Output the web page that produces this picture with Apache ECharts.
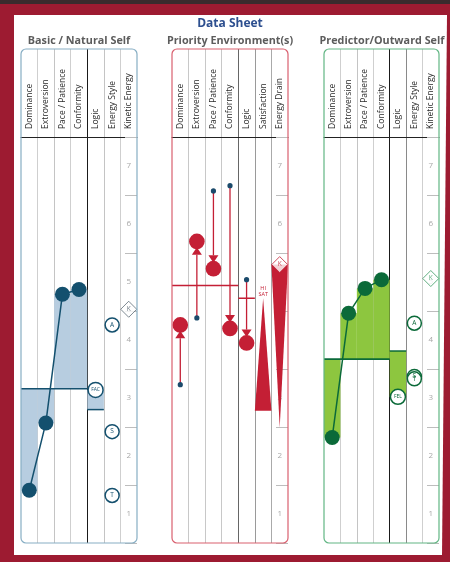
<!DOCTYPE html>
<html><head><meta charset="utf-8">
<script src="https://cdn.jsdelivr.net/npm/echarts@6/dist/echarts.min.js"></script>
<style>html,body{margin:0;padding:0;background:#9d1b31}#c{width:450px;height:562px}</style>
</head><body><div id="c"></div>
<script>
// ---------- data ----------
const sheetTitle = 'Data Sheet';
const panelTitles = ['Basic / Natural Self', 'Priority Environment(s)', 'Predictor/Outward Self'];
const colsSelf = ['Dominance', 'Extroversion', 'Pace / Patience', 'Conformity', 'Logic', 'Energy Style', 'Kinetic Energy'];
const colsEnv = ['Dominance', 'Extroversion', 'Pace / Patience', 'Conformity', 'Logic', 'Satisfaction', 'Energy Drain'];
const scaleLabels = ['1', '2', '3', '4', '5', '6', '7'];

// Basic / Natural Self
const basicTraits = [1.41, 2.57, 4.79, 4.87];
const basicMid = 3.16;
const basicLogic = [2.80, 3.14];          // [bar end with line, bar end with tag]
const basicLogicTag = 'FAC';
const basicStyleTags = ['A', 'S', 'T'];
const basicStyleVals = [4.26, 2.42, 1.32];
const basicKinetic = 4.53;

// Priority Environment(s)
const envFrom = [3.23, 4.38, 6.57, 6.66, 5.04];
const envTo = [4.26, 5.70, 5.23, 4.20, 3.95];
const envMid = 4.94;
const envLogicMark = 4.72;
const envSat = [2.78, 4.72];              // [base, peak]
const envSatTag = ['HI', 'SAT'];
const envDrain = [5.30, 2.49];            // [top, tip]

// Predictor / Outward Self
const predTraits = [2.32, 4.46, 4.89, 5.04];
const predMid = 3.67;
const predLogic = [3.81, 3.02];
const predLogicTag = 'FEL';
const predStyleTags = ['A', 'S', 'T'];
const predStyleVals = [4.29, 3.37, 3.33];
const predKinetic = 5.06;

// ---------- layout / style ----------
const TOP = 49, SEP = 137, BOT = 543;
const FONT = 'Open Sans';
const T = 'rgba(0,0,0,0)';
const panels = [
  { left: 21, width: 116, cols: colsSelf, border: '#87aec4', dark: '#14506e', fill: '#b7cde0',
    lines: [T, '#cfcfcf', '#c4c4c4', '#cfcfcf', '#1a1a1a', '#c4c4c4', '#cfcfcf', T] },
  { left: 172, width: 116, cols: colsEnv, border: '#d9606f', dark: '#c41f35', fill: '#c41f35',
    lines: [T, '#c8c8c8', '#c8c8c8', '#c8c8c8', '#666666', '#9a9a9a', '#aaaaaa', T] },
  { left: 324, width: 115, cols: colsSelf, border: '#62b684', dark: '#0b6a39', fill: '#8dc63f',
    lines: [T, '#cfcfcf', '#c4c4c4', '#cfcfcf', '#1a1a1a', '#8a8a8a', '#cfcfcf', T] }
];
const RED = '#c41f35', BLUE = '#1b4a6b';

const grid = [], xAxis = [], yAxis = [], series = [];
panels.forEach((p, k) => {
  grid.push({ left: p.left, top: TOP, width: p.width, height: SEP - TOP });
  grid.push({ left: p.left, top: SEP, width: p.width, height: BOT - SEP });
  xAxis.push({
    type: 'category', gridIndex: 2 * k, data: p.cols, position: 'bottom',
    axisLine: { show: true, lineStyle: { color: '#222', width: 1 } },
    axisTick: { show: false },
    axisLabel: { inside: true, rotate: 90, margin: 8, fontSize: 8.5, color: '#2a2a2a', fontFamily: FONT, interval: 0 },
    splitLine: { show: true, lineStyle: { color: p.lines, width: 1 } }
  });
  xAxis.push({
    type: 'category', gridIndex: 2 * k + 1, data: p.cols,
    axisLine: { show: false }, axisTick: { show: false }, axisLabel: { show: false, interval: 0 },
    splitLine: { show: true, lineStyle: { color: p.lines, width: 1 } }
  });
  yAxis.push({ type: 'value', gridIndex: 2 * k, min: 0, max: 1, show: false });
  yAxis.push({ type: 'value', gridIndex: 2 * k + 1, min: 0.5, max: 7.5, show: false });
  yAxis.push({
    type: 'category', gridIndex: 2 * k + 1, data: scaleLabels, position: 'right',
    axisLine: { show: false },
    axisTick: { show: true, inside: true, length: 12, lineStyle: { color: '#bdbdbd' } },
    axisLabel: { inside: true, margin: 6, fontSize: 8, color: '#a8a8a8', fontFamily: FONT },
    splitLine: { show: false }
  });
});

const ax = k => ({ xAxisIndex: 2 * k + 1, yAxisIndex: 3 * k + 1 });

function barSeries(k, vals, mid, fill) {
  return Object.assign({
    type: 'custom', z: 2, silent: true,
    data: vals.map((v, i) => [i, v]),
    renderItem: (params, api) => {
      const c = api.coord([api.value(0), api.value(1)]);
      const b = api.coord([api.value(0), mid]);
      const w = api.size([1, 0])[0];
      return { type: 'rect', shape: { x: c[0] - w / 2, y: Math.min(c[1], b[1]), width: w, height: Math.abs(c[1] - b[1]) }, style: { fill } };
    }
  }, ax(k));
}
function hLine(k, c0, c1, v, color, lw) {
  return Object.assign({
    type: 'custom', z: 3, silent: true,
    data: [[c0, v]],
    renderItem: (params, api) => {
      const a = api.coord([api.value(0), api.value(1)]);
      const b = api.coord([c1, api.value(1)]);
      const w = api.size([1, 0])[0];
      return { type: 'line', shape: { x1: a[0] - w / 2, y1: a[1], x2: b[0] + w / 2, y2: b[1] }, style: { stroke: color, lineWidth: lw } };
    }
  }, ax(k));
}
function logicBar(k, col, vals, fill, dark) {
  return Object.assign({
    type: 'custom', z: 2, silent: true,
    data: [[col, vals[0], vals[1]]],
    renderItem: (params, api) => {
      const a = api.coord([api.value(0), api.value(1)]);
      const b = api.coord([api.value(0), api.value(2)]);
      const w = api.size([1, 0])[0];
      return { type: 'group', children: [
        { type: 'rect', shape: { x: a[0] - w / 2, y: Math.min(a[1], b[1]), width: w, height: Math.abs(a[1] - b[1]) }, style: { fill } },
        { type: 'line', shape: { x1: a[0] - w / 2, y1: a[1], x2: a[0] + w / 2, y2: a[1] }, style: { stroke: dark, lineWidth: 1.5 } }
      ] };
    }
  }, ax(k));
}
function traitLine(k, vals, dark) {
  return Object.assign({
    type: 'line', z: 4, silent: true, data: vals, symbol: 'circle', symbolSize: 15,
    showSymbol: true, showAllSymbol: true,
    itemStyle: { color: dark, opacity: 1 }, lineStyle: { color: dark, width: 1.5 }
  }, ax(k));
}
function tagSeries(k, items, dark, size, fs, symbol) {
  return Object.assign({
    type: 'scatter', z: 5, silent: true, symbol: symbol || 'circle', symbolSize: size,
    data: items, encode: { x: 0, y: 1 },
    itemStyle: { color: '#fff', borderColor: dark, borderWidth: 1.5, opacity: 1 },
    label: { show: true, position: 'inside', formatter: p => p.value[2], fontSize: fs, color: dark, fontFamily: FONT }
  }, ax(k));
}

// Panel 1
const p1 = panels[0];
series.push(barSeries(0, basicTraits, basicMid, p1.fill));
series.push(logicBar(0, 4, basicLogic, p1.fill, p1.dark));
series.push(hLine(0, 0, 3, basicMid, p1.dark, 1.6));
series.push(traitLine(0, basicTraits, p1.dark));
series.push(tagSeries(0, [[4, basicLogic[1], basicLogicTag]], p1.dark, 15, 5, 'circle'));
series.push(tagSeries(0, basicStyleVals.map((v, i) => [5, v, basicStyleTags[i]]), p1.dark, 14, 6.5));
series.push(Object.assign(tagSeries(0, [[6, basicKinetic, 'K']], '#4a5a66', 16, 6.5, 'diamond'), { itemStyle: { color: '#fff', borderColor: '#4a5a66', borderWidth: 0.9 } }));

// Panel 2
series.push(hLine(1, 0, 3, envMid, RED, 1.5));
series.push(hLine(1, 4, 4, envLogicMark, RED, 1.5));
series.push(Object.assign({
  type: 'custom', z: 4, silent: true,
  data: envFrom.map((f, i) => [i, f, envTo[i]]),
  renderItem: (params, api) => {
    const i = api.value(0);
    const pf = api.coord([i, api.value(1)]), pt = api.coord([i, api.value(2)]);
    const d = pt[1] > pf[1] ? 1 : -1;
    const r = 7.8;
    const baseY = pt[1] - d * (r + 5.5), tipY = pt[1] - d * (r - 2);
    return { type: 'group', children: [
      { type: 'line', shape: { x1: pf[0], y1: pf[1], x2: pt[0], y2: baseY }, style: { stroke: RED, lineWidth: 1.3 } },
      { type: 'polygon', shape: { points: [[pt[0] - 5, baseY], [pt[0] + 5, baseY], [pt[0], tipY]] }, style: { fill: RED } },
      { type: 'circle', shape: { cx: pt[0], cy: pt[1], r }, style: { fill: RED } },
      { type: 'circle', shape: { cx: pf[0], cy: pf[1], r: 2.6 }, style: { fill: BLUE } }
    ] };
  }
}, ax(1)));
series.push(Object.assign({
  type: 'custom', z: 3, silent: true,
  data: [[5, envSat[0], envSat[1]]],
  renderItem: (params, api) => {
    const b = api.coord([api.value(0), api.value(1)]), t = api.coord([api.value(0), api.value(2)]);
    const w = api.size([1, 0])[0];
    return { type: 'group', children: [
      { type: 'polygon', shape: { points: [[b[0] - w / 2, b[1]], [b[0] + w / 2, b[1]], [t[0], t[1]]] }, style: { fill: RED } },
      { type: 'text', x: t[0], y: t[1] - 10, style: { text: envSatTag[0], fill: RED, fontSize: 5.5, fontFamily: FONT, align: 'center', verticalAlign: 'middle' } },
      { type: 'text', x: t[0], y: t[1] - 4, style: { text: envSatTag[1], fill: RED, fontSize: 5.5, fontFamily: FONT, align: 'center', verticalAlign: 'middle' } }
    ] };
  }
}, ax(1)));
series.push(Object.assign({
  type: 'custom', z: 3, silent: true,
  data: [[6, envDrain[0], envDrain[1]]],
  renderItem: (params, api) => {
    const a = api.coord([api.value(0), api.value(1)]), t = api.coord([api.value(0), api.value(2)]);
    const w = api.size([1, 0])[0];
    return { type: 'polygon', shape: { points: [[a[0] - w / 2, a[1]], [a[0] + w / 2, a[1]], [t[0], t[1]]] }, style: { fill: RED } };
  }
}, ax(1)));
series.push(Object.assign(tagSeries(1, [[6, envDrain[0], 'K']], RED, 16, 6.5, 'diamond'), { itemStyle: { color: '#fff', borderColor: RED, borderWidth: 1 } }));

// Panel 3
const p3 = panels[2];
series.push(barSeries(2, predTraits, predMid, p3.fill));
series.push(logicBar(2, 4, predLogic, p3.fill, p3.dark));
series.push(hLine(2, 0, 3, predMid, p3.dark, 1.6));
series.push(traitLine(2, predTraits, p3.dark));
series.push(tagSeries(2, [[4, predLogic[1], predLogicTag]], p3.dark, 15, 5, 'circle'));
series.push(tagSeries(2, predStyleVals.map((v, i) => [5, v, predStyleTags[i]]), p3.dark, 14, 6.5));
series.push(Object.assign(tagSeries(2, [[6, predKinetic, 'K']], '#3a9a62', 16, 6.5, 'diamond'), { itemStyle: { color: '#fff', borderColor: '#3a9a62', borderWidth: 1 } }));

// ---------- decoration ----------
const graphic = [
  { type: 'rect', z: -10, shape: { x: 0, y: 0, width: 450, height: 4 }, style: { fill: '#3a2b2d' } },
  { type: 'polygon', z: -10, shape: { points: [[14, 15], [447, 15], [442, 555], [14, 555]] }, style: { fill: '#ffffff' } },
  { type: 'text', z: 10, x: 230, y: 24, style: { text: sheetTitle, fill: '#2d4f8f', fontSize: 12, fontWeight: 'bold', fontFamily: FONT, align: 'center', verticalAlign: 'middle' } }
];
const titleX = [79, 230, 382];
panels.forEach((p, k) => {
  graphic.push({ type: 'text', z: 10, x: titleX[k], y: 41, style: { text: panelTitles[k], fill: '#5c5c5c', fontSize: 10.8, fontWeight: 'bold', fontFamily: FONT, align: 'center', verticalAlign: 'middle' } });
  graphic.push({ type: 'rect', z: 50, shape: { x: p.left, y: TOP, width: p.width, height: BOT - TOP, r: 5 }, style: { fill: 'none', stroke: p.border, lineWidth: 1.2 } });
});

const chart = echarts.init(document.getElementById('c'), null, { renderer: 'canvas', width: 450, height: 562 });
chart.setOption({ animation: false, backgroundColor: '#9d1b31', grid, xAxis, yAxis, series, graphic });
</script>
</body></html>
